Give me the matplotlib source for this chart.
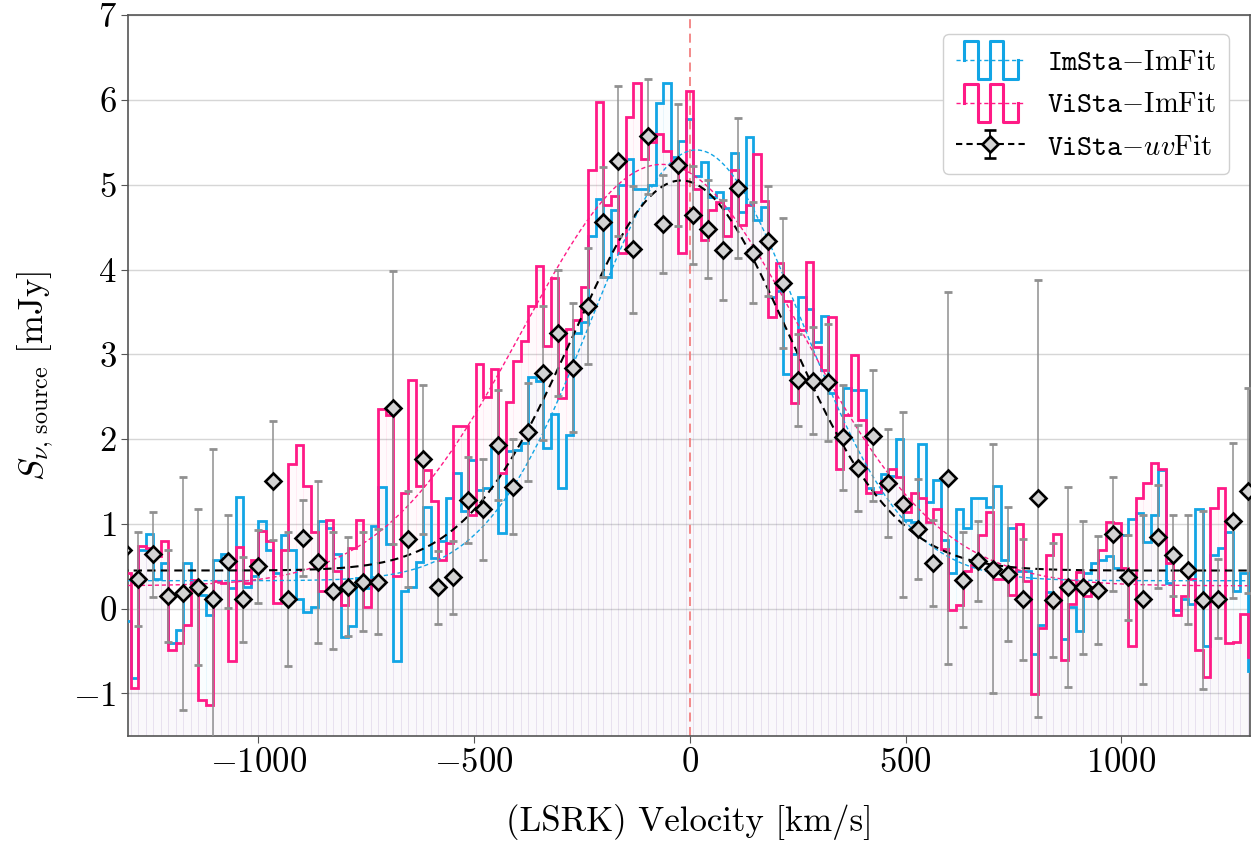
import numpy as np
import matplotlib.pyplot as plt
from matplotlib.legend_handler import HandlerBase
from matplotlib.lines import Line2D

plt.rcParams['font.family'] = 'serif'
plt.rcParams['font.serif'] = ['cmr10']
plt.rcParams['mathtext.fontset'] = 'cm'
plt.rcParams['axes.formatter.use_mathtext'] = True

# channel grid (km/s): spectrum channels and the uv-fit channels (2x binned)
chan = 17.37
v_start = -1277.5
edges = v_start + chan * np.arange(-2, 150)
vel_uv = v_start + 2 * chan * np.arange(-1, 75)

# ImSta - ImFit spectrum [mJy], one value per channel
flux_imsta = [
    -0.15, -0.82, 0.69, 0.88, 0.35, 0.54, -0.41, -0.25, 0.54, 0.30,
    0.16, -0.07, 0.57, 0.65, 0.24, 1.32, 0.26, 0.38, 1.04, 0.69,
    0.42, 0.87, 0.69, 0.12, -0.04, 0.02, 1.03, 0.95, 0.65, -0.33,
    -0.21, 0.36, 0.24, 0.97, 1.44, 0.76, -0.62, 0.21, 0.26, 0.55,
    1.20, 0.60, 0.80, 1.30, 1.60, 1.15, 1.75, 1.40, 1.42, 1.89,
    0.89, 1.86, 1.87, 1.95, 2.73, 2.69, 1.90, 2.30, 1.42, 2.05,
    3.25, 3.38, 4.39, 4.83, 3.91, 4.70, 5.00, 5.30, 4.95, 4.95,
    5.00, 5.96, 6.20, 5.33, 5.52, 5.77, 5.10, 5.27, 4.85, 4.91,
    4.72, 5.37, 4.68, 5.56, 4.58, 4.74, 3.68, 3.75, 2.77, 3.00,
    3.67, 3.54, 3.15, 3.45, 2.54, 1.99, 2.60, 2.58, 2.58, 1.42,
    1.37, 1.59, 1.56, 2.00, 1.05, 1.02, 1.94, 1.26, 1.52, 0.81,
    0.42, 1.17, 0.95, 1.30, 1.31, 1.20, 1.45, 0.57, 0.95, 0.45,
    0.45, -0.53, -0.19, 0.20, 0.10, -0.36, 0.02, -0.26, 0.42, 0.54,
    0.57, 0.62, 0.48, 0.87, 1.06, 1.13, 0.79, 1.11, 1.64, 0.30,
    -0.01, 0.12, 0.06, 1.17, -0.44, 0.63, 0.71, 0.91, 0.21, 0.42,
    -0.74]

# ViSta - ImFit spectrum [mJy]
flux_vista = [
    0.42, -0.93, 0.74, 0.72, 0.62, 0.80, -0.49, -0.41, -0.19, 0.34,
    -1.08, -1.13, 0.33, 0.30, -0.62, 0.73, 0.30, 0.57, 0.92, 0.80,
    0.07, 0.69, 1.71, 1.93, 1.45, 0.91, 0.21, 1.05, 0.44, 0.04,
    0.72, 1.05, 0.02, 0.34, 2.35, 2.29, 0.38, 1.36, 2.70, 1.45,
    1.64, 1.27, 0.58, 0.78, 2.16, 2.15, 1.10, 2.88, 2.50, 2.83,
    1.60, 2.44, 2.92, 3.16, 3.57, 4.04, 3.10, 3.90, 2.48, 3.30,
    3.40, 3.79, 5.17, 5.97, 4.76, 4.87, 4.19, 5.80, 6.20, 5.30,
    5.50, 5.60, 5.40, 5.24, 4.20, 6.11, 4.95, 4.35, 4.70, 4.80,
    4.40, 5.17, 4.52, 4.76, 5.36, 4.81, 3.44, 4.08, 3.63, 2.42,
    3.29, 4.09, 3.09, 2.81, 3.44, 1.65, 2.29, 2.99, 2.23, 1.36,
    1.38, 1.50, 1.65, 1.55, 1.14, 1.36, 1.30, 1.02, 1.18, 0.70,
    -0.01, 0.04, 0.45, 0.52, 0.87, 1.14, 0.35, 0.35, 0.16, 1.00,
    0.33, -1.01, -0.23, 0.63, 0.88, -0.60, 0.06, 0.43, 0.15, 0.25,
    0.69, 1.02, 1.01, 0.48, -0.44, 1.31, 1.48, 1.72, 1.65, 0.54,
    -0.07, 0.15, 0.35, -0.49, -0.80, 1.19, 1.42, -0.40, -0.39, -0.06,
    -0.57]

# ViSta - uvFit points and 1-sigma errors [mJy]
flux_uv = [
    0.69, 0.35, 0.64, 0.15, 0.18, 0.25, 0.12, 0.56, 0.11, 0.50,
    1.51, 0.11, 0.83, 0.55, 0.21, 0.26, 0.32, 0.32, 2.37, 0.82,
    1.76, 0.25, 0.37, 1.28, 1.17, 1.93, 1.44, 2.08, 2.78, 3.25,
    2.84, 3.57, 4.56, 5.28, 4.24, 5.57, 4.54, 5.23, 4.64, 4.48,
    4.23, 4.96, 4.20, 4.34, 3.84, 2.70, 2.69, 2.67, 2.02, 1.66,
    2.04, 1.48, 1.23, 0.94, 0.54, 1.54, 0.34, 0.56, 0.47, 0.41,
    0.11, 1.30, 0.10, 0.26, 0.25, 0.22, 0.88, 0.37, 0.11, 0.85,
    0.63, 0.46, 0.10, 0.12, 1.04, 1.39]
err_uv = [
    0.50, 0.55, 0.50, 0.54, 1.37, 0.92, 1.76, 0.55, 0.50, 0.43,
    0.70, 0.79, 0.45, 0.96, 0.69, 0.58, 0.58, 0.62, 1.61, 0.57,
    0.88, 0.43, 0.43, 0.51, 0.59, 0.65, 0.56, 0.58, 0.79, 0.74,
    0.76, 0.68, 0.65, 0.88, 0.75, 0.68, 0.58, 0.72, 0.58, 0.58,
    0.59, 0.83, 0.60, 0.65, 0.77, 0.54, 0.63, 0.69, 0.62, 0.51,
    0.77, 0.64, 1.09, 0.59, 0.51, 2.19, 0.56, 0.47, 1.47, 0.79,
    0.71, 2.58, 0.67, 1.18, 0.79, 0.64, 0.67, 0.50, 1.00, 0.61,
    0.48, 0.64, 1.05, 0.47, 0.91, 1.21]

# gaussian + offset fits: (amplitude, centre, fwhm, offset)
fit_imsta = (5.08, 15.0, 572.0, 0.33)
fit_vista = (4.97, -65.0, 760.0, 0.27)
fit_uv = (4.60, -20.0, 586.0, 0.45)

c_blue = '#12a5e5'
c_pink = '#ff1a86'


def gauss(v, a, v0, fwhm, c):
    s = fwhm / 2.3548
    return a * np.exp(-0.5 * ((v - v0) / s) ** 2) + c


class HandlerStep(HandlerBase):
    # square wave over a thin dashed line, like the legend of the original
    def create_artists(self, legend, orig_handle, xdescent, ydescent,
                       width, height, fontsize, trans):
        col = orig_handle.get_color()
        x0 = -xdescent
        ym = -ydescent + height / 2
        top, bot = ym + 0.75 * height, ym - 0.75 * height
        fx = np.array([0.12, 0.12, 0.32, 0.32, 0.5, 0.5, 0.68, 0.68, 0.9, 0.9])
        fy = [ym, top, top, bot, bot, top, top, bot, bot, ym]
        wave = Line2D(x0 + fx * width, fy, color=col, lw=2.2, transform=trans)
        dash = Line2D([x0, x0 + width], [ym, ym], color=col, lw=1, ls=(0, (3, 2)),
                      transform=trans)
        return [dash, wave]


fig, ax = plt.subplots(figsize=(12.58, 8.41), dpi=100)
fig.subplots_adjust(left=0.102, right=0.994, top=0.982, bottom=0.125)

centres = 0.5 * (edges[1:] + edges[:-1])
vals_b = np.array(flux_imsta)
vals_p = np.array(flux_vista)

# faint filled channels below the spectra
ax.bar(centres, vals_b + 3, bottom=-3, width=chan, facecolor=(0.07, 0.65, 0.9, 0.018),
       edgecolor=(0.07, 0.65, 0.9, 0.045), linewidth=0.6, zorder=1)
ax.bar(centres, vals_p + 3, bottom=-3, width=chan, facecolor=(1.0, 0.1, 0.53, 0.02),
       edgecolor=(1.0, 0.1, 0.53, 0.04), linewidth=0.6, zorder=1)

ax.stairs(vals_b, edges, color=c_blue, lw=2.0, baseline=None, zorder=3)
ax.stairs(vals_p, edges, color=c_pink, lw=2.0, baseline=None, zorder=3)

vv = np.linspace(-1320, 1320, 600)
ax.plot(vv, gauss(vv, *fit_imsta), color=c_blue, lw=1.0, ls=(0, (3, 2)), zorder=4)
ax.plot(vv, gauss(vv, *fit_vista), color=c_pink, lw=1.0, ls=(0, (3, 2)), zorder=4)
ax.plot(vv, gauss(vv, *fit_uv), color='k', lw=1.5, ls=(0, (4, 2.5)), zorder=4)

ax.axvline(0, color='#f28080', lw=1.3, ls=(0, (5, 3)), zorder=2)

ax.errorbar(vel_uv, flux_uv, yerr=err_uv, fmt='none', ecolor='#909090',
            elinewidth=1.1, capsize=3, capthick=2, zorder=5)
ax.plot(vel_uv, flux_uv, 'D', ms=7.8, mfc='#d3d3d3', mec='k', mew=1.9, zorder=6)

# legend proxies
h_blue = Line2D([], [], color=c_blue)
h_pink = Line2D([], [], color=c_pink)
h_uv = ax.errorbar([np.nan], [np.nan], yerr=[1], fmt='D', ls=(0, (3, 2)), color='k',
                   ms=7.8, mfc='#d3d3d3', mec='k', mew=1.9, ecolor='k',
                   elinewidth=1.3, capsize=4, capthick=1.8)
leg = ax.legend([h_blue, h_pink, h_uv],
                [r'$\mathtt{ImSta}{-}\mathrm{ImFit}$',
                 r'$\mathtt{ViSta}{-}\mathrm{ImFit}$',
                 r'$\mathtt{ViSta}{-}uv\mathrm{Fit}$'],
                handler_map={h_blue: HandlerStep(), h_pink: HandlerStep()},
                loc='upper right', fontsize=20.5, handlelength=2.4, handleheight=1.0,
                labelspacing=0.5, borderpad=0.45, handletextpad=0.8,
                framealpha=1, edgecolor='#d0d0d0', bbox_to_anchor=(0.9935, 0.993))
leg.get_frame().set_linewidth(1.0)

ax.set_xlim(-1301, 1299)
ax.set_ylim(-1.5, 7)
ax.set_yticks(np.arange(-1, 8, 1))
ax.set_xticks([-1000, -500, 0, 500, 1000])
ax.yaxis.grid(True, color='#d6d6d6', lw=1.0)
ax.set_axisbelow(True)
ax.tick_params(labelsize=25, direction='out', length=5, color='#555555')
for s in ax.spines.values():
    s.set_color('#555555')
    s.set_linewidth(1.2)

ax.set_xlabel('(LSRK) Velocity [km/s]', fontsize=25, labelpad=18)
ax.set_ylabel(r'$S_{\nu,\,\mathrm{source}}$ [mJy]', fontsize=25, labelpad=12)

fig.savefig('out.png', dpi=100)
